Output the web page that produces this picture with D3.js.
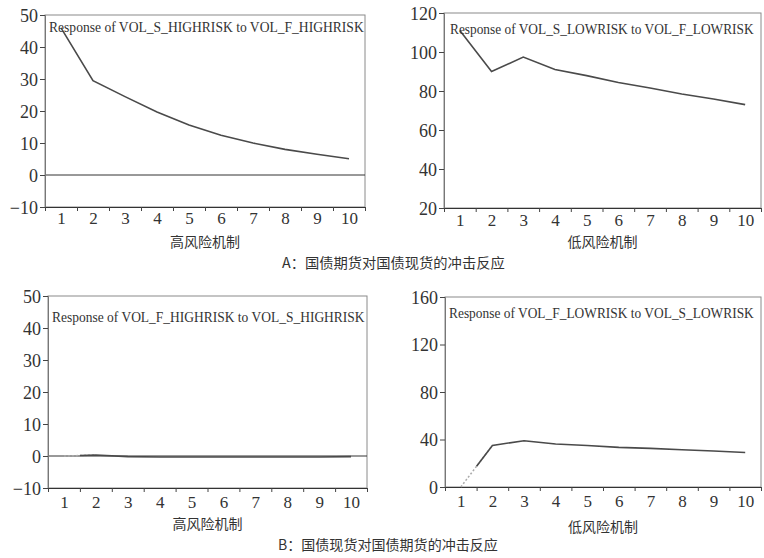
<!DOCTYPE html>
<html>
<head>
<meta charset="utf-8">
<script src="https://cdn.jsdelivr.net/npm/d3@7"></script>
<style>
  body { margin: 0; background: #fff; }
  svg { display: block; }
</style>
</head>
<body>
<div id="chart"></div>
<script>
// impulse response periods
var periods = [1, 2, 3, 4, 5, 6, 7, 8, 9, 10];

// A: response of spot to futures shocks
var spotHighVals = [46, 29.5, 24.5, 19.7, 15.6, 12.4, 10.0, 8.0, 6.5, 5.1];
var spotLowVals = [111, 90, 97.4, 91, 87.9, 84.4, 81.5, 78.5, 75.9, 73];
// B: response of futures to spot shocks
var futHighVals = [0, 0.3, -0.2, -0.3, -0.3, -0.3, -0.3, -0.3, -0.3, -0.2];
var futLowVals = [0, 35, 39, 36.2, 35, 33.4, 32.5, 31.4, 30.3, 29.1];

var highTicks = [-10, 0, 10, 20, 30, 40, 50];
var lowTicksA = [20, 40, 60, 80, 100, 120];
var lowTicksB = [0, 40, 80, 120, 160];

var titles = [
  "Response of VOL_S_HIGHRISK to VOL_F_HIGHRISK",
  "Response of VOL_S_LOWRISK to VOL_F_LOWRISK",
  "Response of VOL_F_HIGHRISK to VOL_S_HIGHRISK",
  "Response of VOL_F_LOWRISK to VOL_S_LOWRISK"
];
var xTitles = ["高风险机制", "低风险机制"];
var captions = ["A：国债期货对国债现货的冲击反应", "B：国债现货对国债期货的冲击反应"];

var serif = "'Liberation Serif', 'DejaVu Serif', serif";
var cjk = "'Noto Sans CJK SC', sans-serif";

var svgWidth = 764, svgHeight = 558;
var svg = d3.select("#chart").append("svg")
  .attr("width", svgWidth)
  .attr("height", svgHeight);

var lineColor = "#4a4a4a";

// squeeze a text horizontally to a given width (condensed look)
function fitText(sel, x0, y0, width) {
  var w = sel.node().getComputedTextLength();
  sel.attr("x", 0).attr("y", 0)
    .attr("transform", "translate(" + x0 + "," + y0 + ") scale(" + (width / w) + ",1)");
}

// panel layout
var panels = [
  {vals: spotHighVals, dom: [-10, 50], ticks: highTicks, title: titles[0], xt: xTitles[0],
   left: 45, right: 365, top: 15, bottom: 207, tdx: 4, tdy: 17, tlen: 315, zero: true, fade: false, xlab: 18, xtY: 242},
  {vals: spotLowVals, dom: [20, 120], ticks: lowTicksA, title: titles[1], xt: xTitles[1],
   left: 444, right: 761, top: 13, bottom: 208, tdx: 6, tdy: 21, tlen: 304, zero: false, fade: false, xlab: 19, xtY: 242},
  {vals: futHighVals, dom: [-10, 50], ticks: highTicks, title: titles[2], xt: xTitles[0],
   left: 48, right: 367, top: 296, bottom: 488, tdx: 4, tdy: 26, tlen: 313, zero: true, fade: true, xlab: 21, xtY: 524},
  {vals: futLowVals, dom: [0, 160], ticks: lowTicksB, title: titles[3], xt: xTitles[1],
   left: 445, right: 761, top: 297, bottom: 487, tdx: 4, tdy: 21, tlen: 305, zero: false, fade: true, xlab: 21, xtY: 527}
];

panels.forEach(function(p) {
  var x = d3.scaleLinear().domain([0.5, 10.5]).range([p.left, p.right]);
  var y = d3.scaleLinear().domain(p.dom).range([p.bottom, p.top]);
  var g = svg.append("g");

  // frame (top and right)
  g.append("rect")
    .attr("x", p.left).attr("y", p.top)
    .attr("width", p.right - p.left).attr("height", p.bottom - p.top)
    .attr("fill", "none").attr("stroke", "#8a8a8a").attr("stroke-width", 1);

  // zero line
  if (p.zero) {
    g.append("line")
      .attr("x1", p.left).attr("x2", p.right)
      .attr("y1", y(0)).attr("y2", y(0))
      .attr("stroke", "#333").attr("stroke-width", 1);
  }

  // y axis
  var yAxis = g.append("g")
    .attr("transform", "translate(" + p.left + ",0)")
    .call(d3.axisLeft(y).tickValues(p.ticks).tickSize(5).tickPadding(2).tickFormat(d => d < 0 ? "−" + Math.abs(d) : d));
  yAxis.attr("font-family", serif);
  yAxis.select(".domain").attr("stroke", "#777");
  yAxis.selectAll(".tick line").attr("stroke", "#444");
  yAxis.selectAll(".tick text")
    .style("font-family", serif).style("font-size", "18px")
    .attr("fill", "#333").attr("dy", "0.34em");

  // x axis: tick marks at period edges, labels at centres
  var edges = d3.range(0.5, 11, 1);
  var xMarks = g.append("g")
    .attr("transform", "translate(0," + p.bottom + ")")
    .call(d3.axisBottom(x).tickValues(edges).tickSize(4).tickFormat(""));
  xMarks.select(".domain").attr("stroke", "#333");
  xMarks.selectAll(".tick line").attr("stroke", "#444");

  var xLabels = g.append("g")
    .attr("transform", "translate(0," + p.bottom + ")")
    .call(d3.axisBottom(x).tickValues(periods).tickSize(0).tickPadding(p.xlab - 13));
  xLabels.attr("font-family", serif);
  xLabels.select(".domain").remove();
  xLabels.selectAll(".tick text")
    .style("font-family", serif).style("font-size", "17px").attr("fill", "#333");

  // response line
  var pts = periods.map((d, i) => [d, p.vals[i]]);
  var line = d3.line().x(d => x(d[0])).y(d => y(d[1]));
  if (p.fade) {
    // EViews-style faded start of the first segment
    g.append("path")
      .datum(pts.slice(0, 2))
      .attr("d", line)
      .attr("fill", "none").attr("stroke", "#aaa").attr("stroke-width", 1.5)
      .attr("stroke-dasharray", "2,2");
    var mid = [(pts[0][0] + pts[1][0]) / 2, (pts[0][1] + pts[1][1]) / 2];
    g.append("path")
      .datum([mid].concat(pts.slice(1)))
      .attr("d", line)
      .attr("fill", "none").attr("stroke", lineColor).attr("stroke-width", 1.6);
  } else {
    g.append("path")
      .datum(pts)
      .attr("d", line)
      .attr("fill", "none").attr("stroke", lineColor).attr("stroke-width", 1.6);
  }

  // panel title
  var t = g.append("text")
    .style("font-family", serif)
    .style("font-size", "15px")
    .attr("fill", "#333")
    .text(p.title);
  fitText(t, p.left + p.tdx, p.top + p.tdy, p.tlen);

  // x axis title
  g.append("text")
    .attr("x", (p.left + p.right) / 2)
    .attr("y", p.xtY)
    .attr("dy", "0.35em")
    .attr("text-anchor", "middle")
    .style("font-family", cjk)
    .style("font-size", "14px")
    .attr("fill", "#333")
    .text(p.xt);
});

// captions
var capA = svg.append("text")
  .attr("dy", "0.35em")
  .style("font-family", cjk)
  .style("font-size", "14px").attr("fill", "#333")
  .text(captions[0]);
fitText(capA, 282, 263, 223);
capA.attr("dy", "0.35em");

var capB = svg.append("text")
  .attr("dy", "0.35em")
  .style("font-family", cjk)
  .style("font-size", "14px").attr("fill", "#333")
  .text(captions[1]);
fitText(capB, 278, 545, 220);
</script>
</body>
</html>
